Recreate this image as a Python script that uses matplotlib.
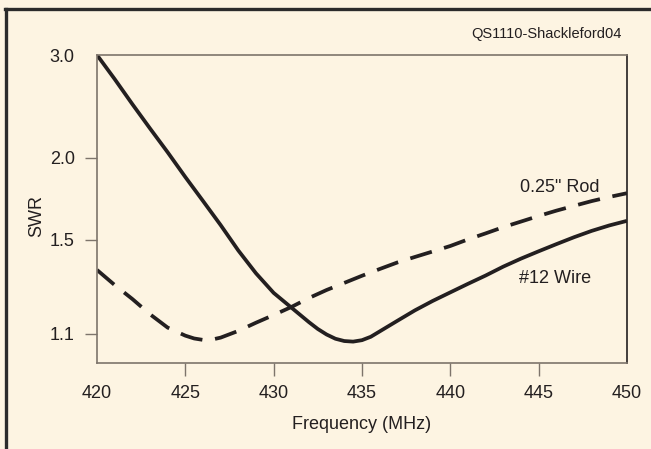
import numpy as np
import matplotlib
matplotlib.use('Agg')
import matplotlib.pyplot as plt
from matplotlib.lines import Line2D

plt.rcParams['font.family'] = ['Liberation Sans', 'DejaVu Sans']

# data (frequency in MHz, SWR)
freq_wire = [420, 421, 422, 423, 424, 425, 426, 427, 428, 429, 430,
             431, 432, 432.5, 433, 433.5, 434, 434.5, 435, 435.5, 436, 437, 438, 439, 440,
             441, 442, 443, 444, 445, 446, 447, 448, 449, 450]
swr_wire = [3.00, 2.71, 2.45, 2.23, 2.04, 1.865, 1.714, 1.577, 1.447, 1.341, 1.257,
            1.198, 1.142, 1.117, 1.097, 1.082, 1.074, 1.072, 1.077, 1.089, 1.108, 1.147, 1.187, 1.224, 1.259,
            1.295, 1.331, 1.371, 1.408, 1.443, 1.478, 1.513, 1.546, 1.575, 1.600]
freq_rod = [420, 421, 422, 423, 424, 425, 425.5, 426, 426.5, 427, 428, 429, 430,
            431, 432, 433, 434, 435, 436, 437, 438, 439, 440,
            441, 442, 443, 444, 445, 446, 447, 448, 449, 450]
swr_rod = [1.356, 1.290, 1.232, 1.172, 1.122, 1.093, 1.083, 1.078, 1.079, 1.086, 1.110, 1.140, 1.169,
           1.200, 1.236, 1.269, 1.299, 1.330, 1.360, 1.390, 1.416, 1.442, 1.469,
           1.502, 1.533, 1.566, 1.596, 1.627, 1.657, 1.685, 1.713, 1.738, 1.761]

xticks = [420, 425, 430, 435, 440, 445, 450]
yticks = [1.1, 1.5, 2.0, 3.0]
ylabels = ['1.1', '1.5', '2.0', '3.0']

bg = '#fdf4e2'
ink = '#231f20'
grey = '#7d746b'

def to_rho(s):
    s = np.asarray(s, dtype=float)
    return (s - 1) / (s + 1)

def from_rho(r):
    r = np.asarray(r, dtype=float)
    return (1 + r) / (1 - r)

fig = plt.figure(figsize=(6.51, 4.49), dpi=100, facecolor=bg)
ax = fig.add_axes([0.149, 0.1915, 0.814, 0.686], facecolor=bg)

ax.plot(freq_wire, swr_wire, color=ink, lw=2.7, solid_capstyle='butt', solid_joinstyle='round')
ax.plot(freq_rod, swr_rod, color=ink, lw=2.7, linestyle=(0, (6, 3.4)), dash_capstyle='butt')

ax.set_yscale('function', functions=(to_rho, from_rho))
ax.set_xlim(420, 450)
ax.set_ylim(1.0, 3.0)
ax.set_xticks(xticks)
ax.set_xticklabels([str(x) for x in xticks])
ax.set_yticks(yticks)
ax.set_yticklabels(ylabels)
ax.minorticks_off()

ax.tick_params(axis='both', direction='out', length=9, width=1.0, color=grey,
               labelsize=13, labelcolor=ink)
ax.tick_params(axis='x', pad=7)
ax.tick_params(axis='y', pad=7)
# no tick marks at the corners
ax.xaxis.get_major_ticks()[0].tick1line.set_visible(False)
ax.xaxis.get_major_ticks()[-1].tick1line.set_visible(False)
ax.yaxis.get_major_ticks()[-1].tick1line.set_visible(False)

for side in ['left', 'bottom', 'top']:
    ax.spines[side].set_color(grey)
    ax.spines[side].set_linewidth(1.2)
ax.spines['right'].set_color(ink)
ax.spines['right'].set_linewidth(1.2)

ax.set_xlabel('Frequency (MHz)', fontsize=13, color=ink, labelpad=10)
ax.set_ylabel('SWR', fontsize=13, color=ink)
ax.yaxis.set_label_coords(-0.098, 0.478)

ax.text(446.2, 1.80, '0.25" Rod', fontsize=13, color=ink, ha='center', va='center')
ax.text(445.95, 1.32, '#12 Wire', fontsize=13, color=ink, ha='center', va='center')

fig.text(0.84, 0.925, 'QS1110-Shackleford04', fontsize=10.5, color=ink,
         ha='center', va='center')

# frame lines along left and top edge
fig.add_artist(Line2D([0.0095, 0.0095], [0.0, 0.98], transform=fig.transFigure,
                      color='#2b2b2b', lw=2.4))
fig.add_artist(Line2D([0.0075, 1.0], [0.98, 0.98], transform=fig.transFigure,
                      color='#2b2b2b', lw=2.4))

fig.savefig('out.png', dpi=100, facecolor=bg)
